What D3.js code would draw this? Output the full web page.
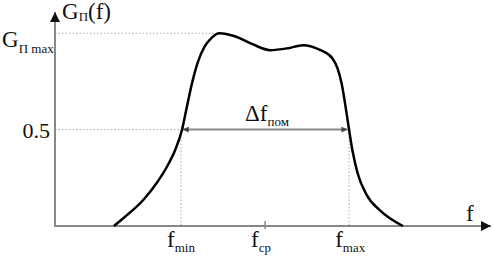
<!DOCTYPE html>
<html>
<head>
<meta charset="utf-8">
<script src="https://cdn.jsdelivr.net/npm/d3@7"></script>
<style>
  html, body { margin: 0; padding: 0; background: #fff; }
  svg { display: block; }
  text { font-family: "Liberation Serif", "DejaVu Serif", serif; fill: #111; }
</style>
</head>
<body>
<div id="chart"></div>
<script>
// Frequency response curve G(f), f in units where fmin = 1, fmax = 3
const curveF = [0.20, 0.33, 0.55, 0.71, 0.83, 0.93, 1.01, 1.07, 1.13, 1.20, 1.28, 1.36, 1.46, 1.64, 1.85, 2.06, 2.27, 2.45, 2.66, 2.80, 2.86, 2.91, 2.95, 2.98, 3.00, 3.04, 3.10, 3.21, 3.37, 3.64];
const curveG = [0.00, 0.047, 0.135, 0.223, 0.306, 0.394, 0.497, 0.62, 0.74, 0.85, 0.93, 0.975, 1.00, 0.984, 0.943, 0.912, 0.922, 0.938, 0.912, 0.870, 0.820, 0.740, 0.640, 0.555, 0.497, 0.390, 0.275, 0.160, 0.080, 0.00];

const freqMarks = [1, 2, 3];           // fmin, fcp, fmax
const freqNames = ['min', 'cp', 'max'];
const levelMarks = [1, 0.5];           // Gmax, 0.5

const width = 493, height = 257;
const svg = d3.select('#chart').append('svg')
    .attr('width', width)
    .attr('height', height);

const x = d3.scaleLinear().domain([-0.5, 4.7]).range([55, 492]);
const y = d3.scaleLinear().domain([0, 1.11]).range([226, 12]);

const defs = svg.append('defs');
function arrowMarker(id, color, w, h) {
    defs.append('marker')
        .attr('id', id)
        .attr('viewBox', '0 0 10 10')
        .attr('refX', 10).attr('refY', 5)
        .attr('markerUnits', 'userSpaceOnUse')
        .attr('markerWidth', w).attr('markerHeight', h)
        .attr('orient', 'auto-start-reverse')
        .append('path')
        .attr('d', 'M0,0 L10,5 L0,10 Z')
        .attr('fill', color);
}
arrowMarker('axisArrow', '#111', 11, 10);
arrowMarker('dimArrow', '#444', 8, 6);

// dotted guides
const dotted = { stroke: '#aaa', width: 1, dash: '1.5,2' };
svg.append('line')
    .attr('x1', x(-0.5)).attr('x2', x(1.46))
    .attr('y1', y(1)).attr('y2', y(1))
    .attr('stroke', dotted.stroke).attr('stroke-width', dotted.width)
    .attr('stroke-dasharray', dotted.dash);
svg.append('line')
    .attr('x1', x(-0.5)).attr('x2', x(1))
    .attr('y1', y(0.5)).attr('y2', y(0.5))
    .attr('stroke', dotted.stroke).attr('stroke-width', dotted.width)
    .attr('stroke-dasharray', dotted.dash);
[1, 3].forEach(f => {
    svg.append('line')
        .attr('x1', x(f)).attr('x2', x(f))
        .attr('y1', y(0.5)).attr('y2', y(0))
        .attr('stroke', dotted.stroke).attr('stroke-width', dotted.width)
        .attr('stroke-dasharray', dotted.dash);
});

// axes
svg.append('line')
    .attr('x1', x(-0.5)).attr('x2', x(4.7) - 1)
    .attr('y1', y(0)).attr('y2', y(0))
    .attr('stroke', '#888').attr('stroke-width', 2)
    .attr('marker-end', 'url(#axisArrow)');
svg.append('line')
    .attr('x1', x(-0.5)).attr('x2', x(-0.5))
    .attr('y1', y(0) + 1).attr('y2', y(1.11))
    .attr('stroke', '#888').attr('stroke-width', 2)
    .attr('marker-end', 'url(#axisArrow)');

// fcp tick
svg.append('line')
    .attr('x1', x(2)).attr('x2', x(2))
    .attr('y1', y(0) - 5).attr('y2', y(0) + 3)
    .attr('stroke', '#888').attr('stroke-width', 1.5);

// bandwidth arrow at 0.5 level
svg.append('line')
    .attr('x1', x(1.02)).attr('x2', x(2.98))
    .attr('y1', y(0.5)).attr('y2', y(0.5))
    .attr('stroke', '#888').attr('stroke-width', 2)
    .attr('marker-start', 'url(#dimArrow)')
    .attr('marker-end', 'url(#dimArrow)');

// curve
const pts = curveF.map((f, i) => [f, curveG[i]]);
svg.append('path')
    .datum(pts)
    .attr('d', d3.line().x(d => x(d[0])).y(d => y(d[1])).curve(d3.curveMonotoneX))
    .attr('fill', 'none')
    .attr('stroke', '#000')
    .attr('stroke-width', 2.5);

// labels
function label(px, py, main, sub, size, subSize, subDy) {
    const t = svg.append('text').attr('x', px).attr('y', py).style('font-size', size + 'px');
    t.append('tspan').text(main);
    t.append('tspan').attr('dy', subDy).style('font-size', subSize + 'px').text(sub);
    return t;
}

// y axis title G_Π(f)
const yt = svg.append('text').attr('x', 62).attr('y', 19).style('font-size', '23px');
yt.append('tspan').text('G');
yt.append('tspan').attr('dy', 2).style('font-size', '13px').text('Π');
yt.append('tspan').attr('dy', -2).text('(f)');

// Gmax level label
label(2, y(levelMarks[0]) + 14, 'G', 'Π max', 23, 13, 6);

// 0.5 level label
svg.append('text')
    .attr('x', 50).attr('y', y(levelMarks[1]) + 8)
    .attr('text-anchor', 'end')
    .style('font-size', '22px')
    .text(d3.format('.1f')(levelMarks[1]));

// frequency labels
freqMarks.forEach((f, i) => {
    label(x(f) - 14, 247, 'f', freqNames[i], 23, 13, 5);
});

// axis f label
svg.append('text').attr('x', 466).attr('y', 221).style('font-size', '23px').text('f');

// bandwidth label
label(245, 121, 'Δf', 'пом', 23, 13, 5);
</script>
</body>
</html>
